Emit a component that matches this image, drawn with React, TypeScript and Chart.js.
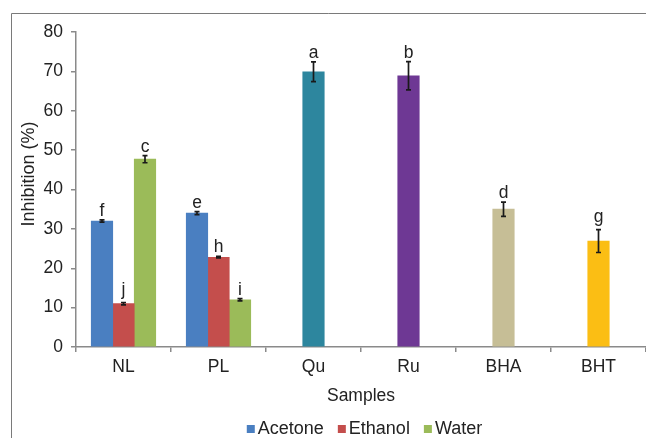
import React, { useEffect, useRef } from "react";
import { Chart, registerables } from "chart.js";

Chart.register(...registerables);

// ---- data ----
const categories = ["NL", "PL", "Qu", "Ru", "BHA", "BHT"];
const seriesNames = ["Acetone", "Ethanol", "Water"];
const acetone = [32, 34, null, null, null, null];
const ethanol = [11, 22.8, null, null, null, null];
const water = [47.7, 12, null, null, null, null];
const standards = [null, null, 69.9, 68.9, 35, 26.9];
const acetoneErr = [0.3, 0.4, null, null, null, null];
const ethanolErr = [0.3, 0.2, null, null, null, null];
const waterErr = [0.9, 0.3, null, null, null, null];
const standardsErr = [null, null, 2.5, 3.6, 1.8, 2.9];
const acetoneLetters = ["f", "e", null, null, null, null];
const ethanolLetters = ["j", "h", null, null, null, null];
const waterLetters = ["c", "i", null, null, null, null];
const standardsLetters = [null, null, "a", "b", "d", "g"];
const yMin = 0;
const yMax = 80;
const yStep = 10;

// ---- styles ----
const FONT = '"Liberation Sans", Arial, sans-serif';
const TEXT = "#222222";
const AXIS = "#8a8a8a";
const seriesColors = ["#4A7FC1", "#C44E4C", "#9BBB59"];
const standardsColors = ["#000000", "#000000", "#2D869E", "#6E3894", "#C6BE96", "#FBBE14"];

const errs = [acetoneErr, ethanolErr, waterErr, standardsErr];
const letters = [acetoneLetters, ethanolLetters, waterLetters, standardsLetters];

const framePlugin = {
  id: "frame",
  beforeDraw(chart: any) {
    const ctx = chart.ctx;
    ctx.save();
    ctx.fillStyle = "#ffffff";
    ctx.fillRect(0, 0, chart.width, chart.height);
    ctx.strokeStyle = "#7a7a7a";
    ctx.lineWidth = 1;
    ctx.beginPath();
    ctx.moveTo(11.5, chart.height);
    ctx.lineTo(11.5, 13.5);
    ctx.lineTo(chart.width, 13.5);
    ctx.stroke();
    ctx.restore();
  },
};

const errorPlugin = {
  id: "errors",
  afterDatasetsDraw(chart: any) {
    const ctx = chart.ctx;
    const y = chart.scales.y;
    ctx.save();
    chart.data.datasets.forEach((ds: any, i: number) => {
      const meta = chart.getDatasetMeta(i);
      meta.data.forEach((bar: any, j: number) => {
        const v = ds.data[j];
        if (v == null) return;
        const e = errs[i][j] || 0;
        const x = bar.x;
        const top = y.getPixelForValue(v + e);
        const bot = y.getPixelForValue(v - e);
        ctx.strokeStyle = "#1a1a1a";
        ctx.lineWidth = 1.7;
        ctx.beginPath();
        ctx.moveTo(x, top);
        ctx.lineTo(x, bot);
        ctx.moveTo(x - 2.5, top);
        ctx.lineTo(x + 2.5, top);
        ctx.moveTo(x - 2.5, bot);
        ctx.lineTo(x + 2.5, bot);
        ctx.stroke();
        const l = letters[i][j];
        if (l) {
          ctx.fillStyle = TEXT;
          ctx.font = `17.5px ${FONT}`;
          ctx.textAlign = "center";
          ctx.textBaseline = "alphabetic";
          const m = ctx.measureText(l);
          const desc = Math.max(0, m.actualBoundingBoxDescent || 0);
          ctx.fillText(l, x, top - 4 - desc);
        }
      });
    });
    ctx.restore();
  },
};

const legendPlugin = {
  id: "customLegend",
  afterDraw(chart: any) {
    const ctx = chart.ctx;
    ctx.save();
    ctx.font = `18px ${FONT}`;
    const items = seriesNames.map((name, i) => ({
      name,
      color: chart.data.datasets[i].backgroundColor,
      w: ctx.measureText(name).width,
    }));
    const box = 8;
    const gap = 3;
    const spacing = 14;
    const total = items.reduce((s, it) => s + box + gap + it.w, 0) + spacing * (items.length - 1);
    let x = 364.5 - total / 2;
    const base = 434;
    items.forEach((it) => {
      ctx.fillStyle = it.color;
      ctx.fillRect(x, base - 9, box, box);
      ctx.fillStyle = TEXT;
      ctx.textAlign = "left";
      ctx.textBaseline = "alphabetic";
      ctx.fillText(it.name, x + box + gap, base);
      x += box + gap + it.w + spacing;
    });
    ctx.restore();
  },
};

const yTitlePlugin = {
  id: "yTitle",
  afterDraw(chart: any) {
    const ctx = chart.ctx;
    ctx.save();
    ctx.translate(29, 174);
    ctx.rotate(-Math.PI / 2);
    ctx.font = `18px ${FONT}`;
    ctx.fillStyle = TEXT;
    ctx.textAlign = "center";
    ctx.textBaseline = "middle";
    ctx.fillText("Inhibition (%)", 0, 0);
    ctx.restore();
  },
};

export default function App() {
  const ref = useRef<HTMLCanvasElement>(null);
  useEffect(() => {
    if (!ref.current) return;
    const chart = new Chart(ref.current, {
      type: "bar",
      data: {
        labels: categories,
        datasets: [
          { label: seriesNames[0], data: acetone, backgroundColor: seriesColors[0] },
          { label: seriesNames[1], data: ethanol, backgroundColor: seriesColors[1] },
          { label: seriesNames[2], data: water, backgroundColor: seriesColors[2] },
          { label: "Standards", data: standards, backgroundColor: standardsColors },
        ] as any,
      },
      options: {
        animation: false,
        responsive: false,
        devicePixelRatio: 1,
        layout: { padding: { top: 32, left: 0, right: 0, bottom: 0 } },
        datasets: { bar: { skipNull: true, barThickness: 21.5 } as any },
        plugins: { legend: { display: false }, tooltip: { enabled: false } },
        scales: {
          x: {
            grid: {
              display: true,
              drawOnChartArea: false,
              drawTicks: true,
              tickLength: 5,
              color: AXIS,
              lineWidth: 1.5,
              offset: true,
            },
            border: { display: true, color: AXIS, width: 1.5 },
            ticks: { font: { family: FONT, size: 17.5 }, color: TEXT, padding: 5 },
            title: {
              display: true,
              text: "Samples",
              font: { family: FONT, size: 17.5 },
              color: TEXT,
              padding: { top: 0, bottom: 31 },
            },
            afterFit: (s: any) => {
              s.height = 91;
            },
          },
          y: {
            min: yMin,
            max: yMax,
            ticks: { stepSize: yStep, font: { family: FONT, size: 17.5 }, color: TEXT, padding: 8 },
            grid: {
              drawOnChartArea: false,
              drawTicks: true,
              tickLength: 5,
              color: AXIS,
              lineWidth: 1.5,
            },
            border: { display: true, color: AXIS, width: 1.5 },
            afterFit: (s: any) => {
              s.width = 76;
            },
          },
        },
      },
      plugins: [framePlugin, errorPlugin, legendPlugin, yTitlePlugin],
    });
    return () => chart.destroy();
  }, []);
  return (
    <div style={{ position: "fixed", left: 0, top: 0, width: 646, height: 438, background: "#fff" }}>
      <canvas ref={ref} width={646} height={438} style={{ display: "block" }} />
    </div>
  );
}
